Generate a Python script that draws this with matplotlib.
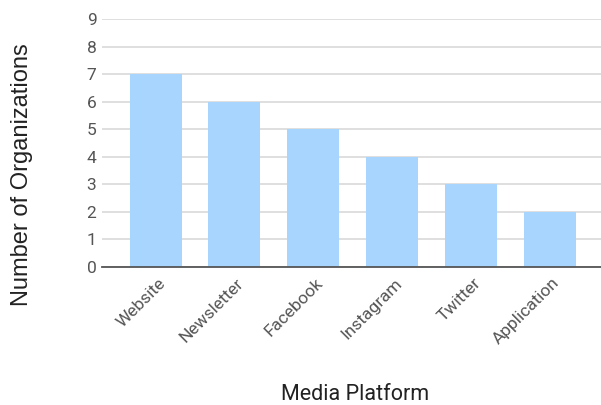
import matplotlib
matplotlib.use("Agg")
import matplotlib.pyplot as plt
import matplotlib.transforms as mtransforms

platforms = ["Website", "Newsletter", "Facebook", "Instagram", "Twitter", "Application"]
counts = [7, 6, 5, 4, 3, 2]
yticks = list(range(0, 10))

plt.rcParams['font.family'] = ['Roboto', 'DejaVu Sans']

fig = plt.figure(figsize=(6.01, 4.05), dpi=100)
ax = fig.add_axes([102/601, 1-267/405, 1-102/601, (267-19)/405])

x = range(len(platforms))
ax.bar(x, counts, width=0.66, color="#a7d5fd", zorder=2)

ax.set_xlim(-0.68, 5.65)
ax.set_ylim(0, 9)
ax.set_yticks(yticks)
ax.set_yticklabels([str(v) for v in yticks], fontsize=12.5, color="#555555")
ax.yaxis.grid(True, color="#d9d9d9", linewidth=1.2, zorder=0)
ax.set_xticks(list(x))
ax.set_xticklabels(platforms, rotation=45, ha="right", va="top",
                   rotation_mode="anchor", fontsize=12.5, color="#555555")
ax.tick_params(axis="both", length=0)
ax.tick_params(axis="y", pad=4)
ax.tick_params(axis="x", pad=6)
offset = mtransforms.ScaledTranslation(2/100, 0, fig.dpi_scale_trans)
for lab in ax.get_xticklabels():
    lab.set_transform(lab.get_transform() + offset)

for s in ["top", "right", "left"]:
    ax.spines[s].set_visible(False)
ax.spines["bottom"].set_color("#555555")
ax.spines["bottom"].set_linewidth(1.3)
ax.spines["bottom"].set_zorder(3)

fig.text(355/601, 1-394/405, "Media Platform", ha="center", va="center", fontsize=15.5, color="#222222")
fig.text(22/601, 1-175/405, "Number of Organizations", ha="center", va="center",
         rotation=90, fontsize=17, color="#222222", family=["Liberation Sans", "DejaVu Sans"])

fig.savefig("out.png", dpi=100)
